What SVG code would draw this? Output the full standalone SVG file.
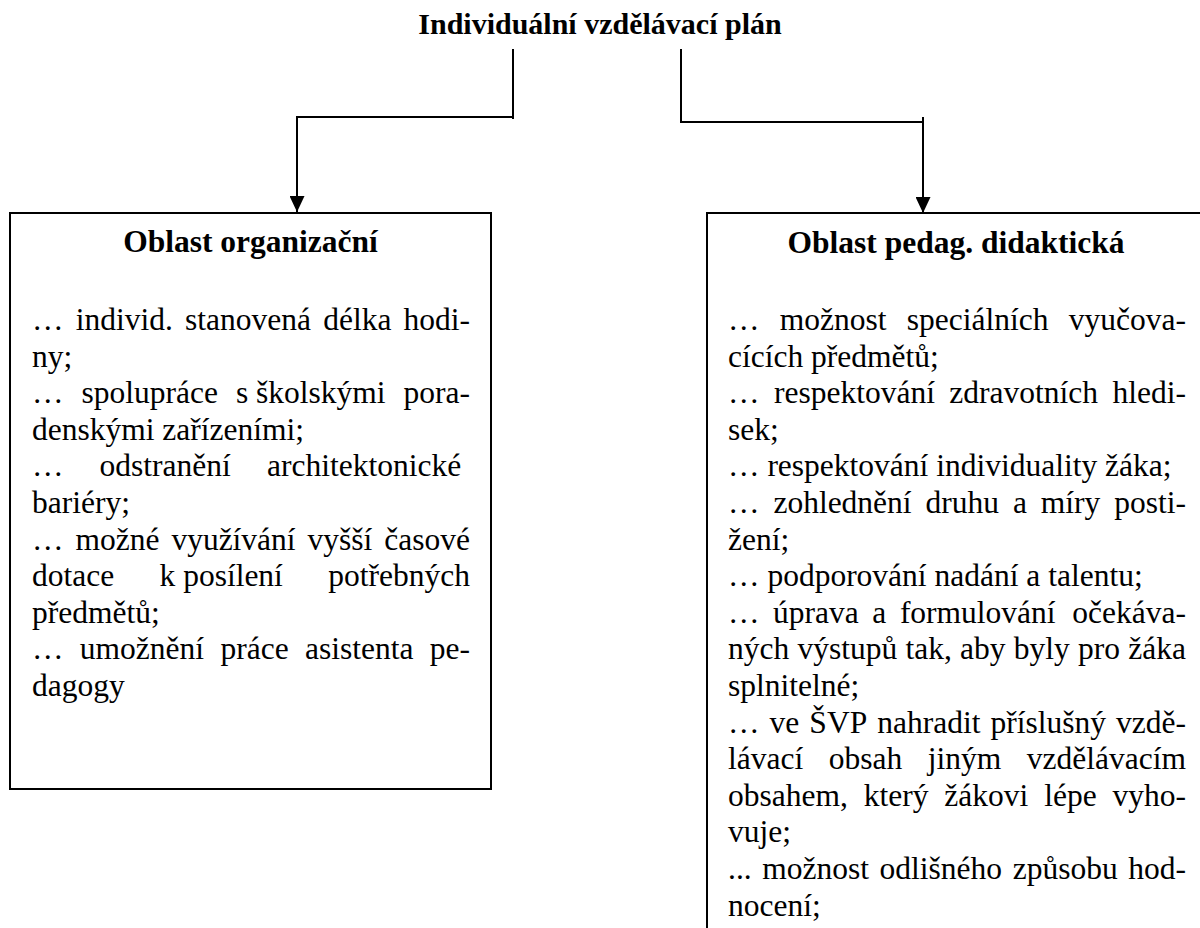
<svg xmlns="http://www.w3.org/2000/svg" width="1200" height="928" viewBox="0 0 1200 928">
<style>
.bg{fill:#ffffff}
.box{fill:#ffffff;stroke:#000000;stroke-width:2}
.ln{fill:none;stroke:#000000;stroke-width:2}
.t{font-family:"Liberation Serif","Times New Roman",serif;font-size:31.5px;fill:#000000}
.h{font-family:"Liberation Serif","Times New Roman",serif;font-size:31.5px;font-weight:bold;fill:#000000;text-anchor:middle}
.mt{font-family:"Liberation Serif","Times New Roman",serif;font-size:30px;font-weight:bold;fill:#000000;text-anchor:middle}
</style>
<defs>
<marker id="arr" markerUnits="userSpaceOnUse" markerWidth="16" markerHeight="15" refX="16" refY="7.5" orient="auto">
<path d="M0,0 L16,7.5 L0,15 Z" fill="#000000"/>
</marker>
</defs>
<rect class="bg" x="0" y="0" width="1200" height="928"/>

<g id="node-title">
<text class="mt" x="600" y="34">Individuální vzdělávací plán</text>
</g>

<g id="connectors">
<path class="ln" d="M513,49 V119"/>
<path class="ln" d="M513,117 H297"/>
<path class="ln" d="M297,116 V212" marker-end="url(#arr)"/>
<path class="ln" d="M681,49 V122 H923"/>
<path class="ln" d="M923,117 V213" marker-end="url(#arr)"/>
</g>

<g id="node-left">
<rect class="box" x="10" y="213" width="481" height="576"/>
<text class="h" x="250.5" y="252">Oblast organizační</text>
<text class="t" y="330"><tspan x="32">…</tspan><tspan x="75.7">individ.</tspan><tspan x="185.05">stanovená</tspan><tspan x="323.2">délka</tspan><tspan x="403.5">hodi-</tspan></text>
<text class="t" x="32" y="366.6">ny;</text>
<text class="t" y="403.2"><tspan x="32">…</tspan><tspan x="81.47">spolupráce</tspan><tspan x="235.9">s&#160;školskými</tspan><tspan x="403.5">pora-</tspan></text>
<text class="t" x="32" y="439.8">denskými zařízeními;</text>
<text class="t" y="476.4"><tspan x="32">…</tspan><tspan x="99.6">odstranění</tspan><tspan x="266.98">architektonické</tspan></text>
<text class="t" x="32" y="513">bariéry;</text>
<text class="t" y="549.6"><tspan x="32">…</tspan><tspan x="75.45">možné</tspan><tspan x="171.38">využívání</tspan><tspan x="307.57">vyšší</tspan><tspan x="384.28">časové</tspan></text>
<text class="t" y="586.2"><tspan x="32">dotace</tspan><tspan x="159.5">k&#160;posílení</tspan><tspan x="328.28">potřebných</tspan></text>
<text class="t" x="32" y="622.8">předmětů;</text>
<text class="t" y="659.4"><tspan x="32">…</tspan><tspan x="79.85">umožnění</tspan><tspan x="220.44">práce</tspan><tspan x="305">asistenta</tspan><tspan x="429.84">pe-</tspan></text>
<text class="t" x="32" y="696">dagogy</text>
</g>

<g id="node-right">
<rect class="box" x="707" y="213" width="500" height="760"/>
<text class="h" x="956" y="253">Oblast pedag. didaktická</text>
<text class="t" y="330"><tspan x="728">…</tspan><tspan x="779.77">možnost</tspan><tspan x="906.8">speciálních</tspan><tspan x="1068.79">vyučova-</tspan></text>
<text class="t" x="728" y="366.6">cících předmětů;</text>
<text class="t" y="403.2"><tspan x="728">…</tspan><tspan x="773.94">respektování</tspan><tspan x="949.35">zdravotních</tspan><tspan x="1112.5">hledi-</tspan></text>
<text class="t" x="728" y="439.8">sek;</text>
<text class="t" x="728" y="476.4">… respektování individuality žáka;</text>
<text class="t" y="513"><tspan x="728">…</tspan><tspan x="773.41">zohlednění</tspan><tspan x="925.54">druhu</tspan><tspan x="1012.94">a</tspan><tspan x="1040.84">míry</tspan><tspan x="1114.24">posti-</tspan></text>
<text class="t" x="728" y="549.6">žení;</text>
<text class="t" x="728" y="586.2">… podporování nadání a talentu;</text>
<text class="t" y="622.8"><tspan x="728">…</tspan><tspan x="773.06">úprava</tspan><tspan x="872.33">a</tspan><tspan x="899.88">formulování</tspan><tspan x="1072.33">očekáva-</tspan></text>
<text class="t" y="659.4"><tspan x="728">ných</tspan><tspan x="797.48">výstupů</tspan><tspan x="905.48">tak,</tspan><tspan x="960.09">aby</tspan><tspan x="1013.82">byly</tspan><tspan x="1078.07">pro</tspan><tspan x="1128.3">žáka</tspan></text>
<text class="t" x="728" y="696">splnitelné;</text>
<text class="t" y="732.6"><tspan x="728">…</tspan><tspan x="769.56">ve</tspan><tspan x="809.36">ŠVP</tspan><tspan x="877.19">nahradit</tspan><tspan x="990.48">příslušný</tspan><tspan x="1116.04">vzdě-</tspan></text>
<text class="t" y="769.2"><tspan x="728">lávací</tspan><tspan x="828.74">obsah</tspan><tspan x="927.75">jiným</tspan><tspan x="1026.8">vzdělávacím</tspan></text>
<text class="t" y="805.8"><tspan x="728">obsahem,</tspan><tspan x="863.73">který</tspan><tspan x="944.33">žákovi</tspan><tspan x="1044.18">lépe</tspan><tspan x="1112.53">vyho-</tspan></text>
<text class="t" x="728" y="842.4">vuje;</text>
<text class="t" y="879"><tspan x="728">...</tspan><tspan x="762.23">možnost</tspan><tspan x="879.58">odlišného</tspan><tspan x="1012.68">způsobu</tspan><tspan x="1128.27">hod-</tspan></text>
<text class="t" x="728" y="915.6">nocení;</text>
</g>
</svg>
